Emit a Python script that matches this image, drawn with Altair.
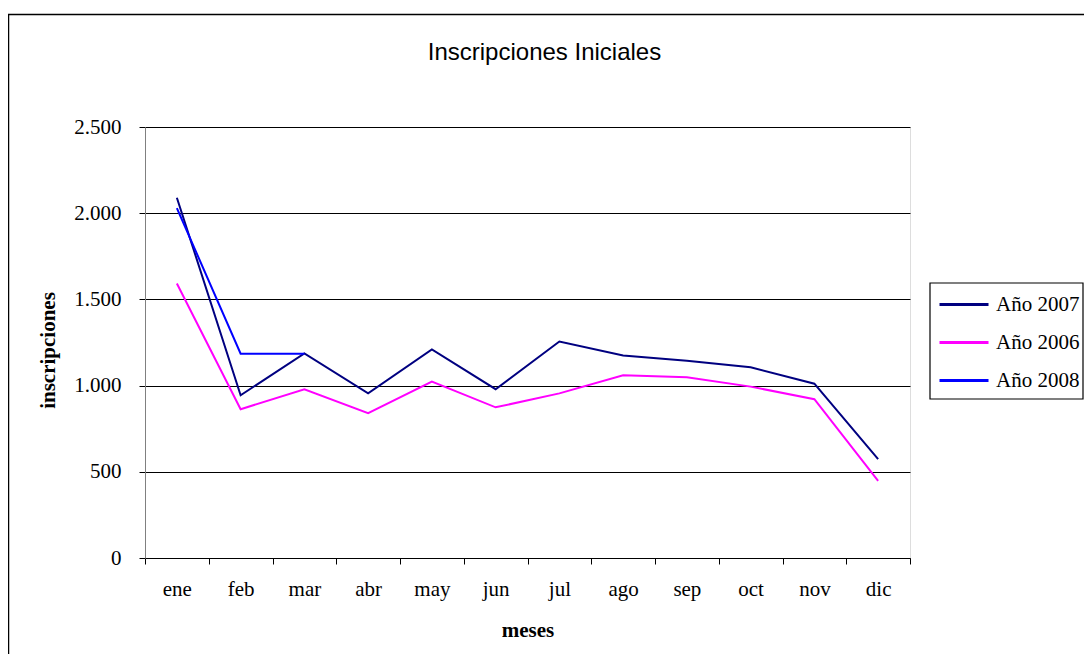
import altair as alt
import pandas as pd

months = ["ene", "feb", "mar", "abr", "may", "jun", "jul", "ago", "sep", "oct", "nov", "dic"]
v2007 = [2090, 944, 1187, 955, 1210, 979, 1256, 1175, 1144, 1106, 1011, 573]
v2006 = [1592, 863, 979, 840, 1023, 874, 955, 1060, 1048, 994, 921, 448]
v2008 = [2030, 1185, 1185]
series_names = ["Año 2007", "Año 2006", "Año 2008"]
series_colors = ["#000080", "#FF00FF", "#0000FF"]
y_ticks = [0, 500, 1000, 1500, 2000, 2500]

rows = []
for name, vals in zip(series_names, [v2007, v2006, v2008]):
    for m, v in zip(months, vals):
        rows.append({"mes": m, "inscripciones": v, "serie": name})
df = pd.DataFrame(rows)

serif = "Liberation Serif"

lines = alt.Chart(df).mark_line(strokeWidth=2).encode(
    x=alt.X(
        "mes:N",
        sort=months,
        bandPosition=0.5,
        scale=alt.Scale(type="band", paddingInner=0, paddingOuter=0),
        axis=alt.Axis(
            title="meses",
            tickBand="extent",
            labelAngle=0,
            labelFont=serif,
            labelFontSize=21,
            labelColor="black",
            labelPadding=14,
            tickSize=6,
            tickColor="black",
            domainColor="black",
            titleFont=serif,
            titleFontSize=21,
            titleFontWeight="bold",
            titleColor="black",
            titlePadding=20,
            grid=False,
        ),
    ),
    y=alt.Y(
        "inscripciones:Q",
        scale=alt.Scale(domain=[0, 2500], nice=False),
        axis=alt.Axis(
            title="inscripciones",
            values=y_ticks,
            labelExpr="replace(format(datum.value, ','), ',', '.')",
            labelFont=serif,
            labelFontSize=21,
            labelColor="black",
            labelPadding=18,
            tickSize=6,
            tickColor="black",
            domainColor="#808080",
            titleFont=serif,
            titleFontSize=21,
            titleFontWeight="bold",
            titleColor="black",
            titlePadding=15,
            titleY=223,
            grid=True,
            gridColor="black",
            gridWidth=1,
        ),
    ),
    color=alt.Color(
        "serie:N",
        scale=alt.Scale(domain=series_names, range=series_colors),
        legend=alt.Legend(
            title=None,
            orient="none",
            legendX=793,
            legendY=151.5,
            symbolType="stroke",
            symbolSize=2401,
            symbolStrokeWidth=3,
            labelFont=serif,
            labelFontSize=21,
            labelColor="black",
            labelOffset=6,
            rowPadding=2,
            padding=0,
        ),
    ),
)

one_row = alt.Data(values=[{}])

frame = alt.Chart(one_row).mark_rect(
    fill=None, stroke="black", strokeWidth=1.5
).encode(
    x=alt.value(-136.5),
    y=alt.value(-112.5),
    x2=alt.value(1000),
    y2=alt.value(600),
)

legend_box = alt.Chart(one_row).mark_rect(
    fill="white", stroke="black", strokeWidth=1.2
).encode(
    x=alt.value(785),
    y=alt.value(156),
    x2=alt.value(938),
    y2=alt.value(272),
)

chart = alt.layer(frame, legend_box, lines).properties(
    width=765,
    height=431,
    autosize=alt.AutoSizeParams(type="none"),
    padding={"left": 137, "top": 119, "right": 174, "bottom": 96},
    title=alt.TitleParams(
        "Inscripciones Iniciales",
        font="Liberation Sans",
        fontSize=24,
        fontWeight="normal",
        color="black",
        anchor="middle",
        dx=17,
        baseline="alphabetic",
        offset=-70.5,
    ),
).configure_view(
    stroke="#808080", strokeWidth=1.5
).configure(background="white")

chart.save("out.html", embed_options={"renderer": "svg", "actions": False})
